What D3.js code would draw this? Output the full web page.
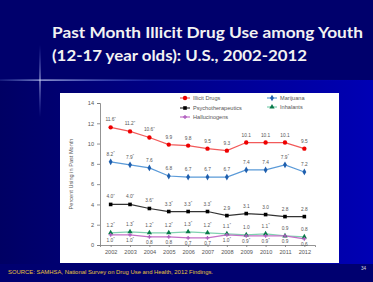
<!DOCTYPE html>
<html>
<head>
<meta charset="utf-8">
<script src="https://cdn.jsdelivr.net/npm/d3@7"></script>
<style>
  body { margin: 0; background: #000066; }
  svg { display: block; }
</style>
</head>
<body>
<svg width="373" height="282"></svg>
<script>
var years = [2002, 2003, 2004, 2005, 2006, 2007, 2008, 2009, 2010, 2011, 2012];
var illicit = [11.6, 11.2, 10.6, 9.9, 9.8, 9.5, 9.3, 10.1, 10.1, 10.1, 9.5];
var illicitSig = [1, 1, 1, 0, 0, 0, 0, 0, 0, 0, 0];
var marijuana = [8.2, 7.9, 7.6, 6.8, 6.7, 6.7, 6.7, 7.4, 7.4, 7.9, 7.2];
var marijuanaSig = [1, 1, 0, 0, 0, 0, 0, 0, 0, 1, 0];
var psycho = [4.0, 4.0, 3.6, 3.3, 3.3, 3.3, 2.9, 3.1, 3.0, 2.8, 2.8];
var psychoSig = [1, 1, 1, 1, 1, 1, 0, 0, 0, 0, 0];
var inhalants = [1.2, 1.3, 1.2, 1.2, 1.3, 1.2, 1.1, 1.0, 1.1, 0.9, 0.8];
var inhalantsSig = [1, 1, 1, 1, 1, 1, 1, 0, 1, 0, 0];
var halluc = [1.0, 1.0, 0.8, 0.8, 0.7, 0.7, 1.0, 0.9, 0.9, 0.9, 0.6];
var hallucSig = [1, 1, 0, 0, 0, 0, 1, 1, 1, 0, 0];
var yTicks = [0, 2, 4, 6, 8, 10, 12, 14];

var series = [
    { name: "Illicit Drugs", values: illicit, sig: illicitSig, line: "#f25a5a", mark: "#ee0000", sym: d3.symbolCircle, size: 15, below: false },
    { name: "Marijuana", values: marijuana, sig: marijuanaSig, line: "#5a9ad8", mark: "#1f5fae", sym: d3.symbolDiamond, size: 13, below: false },
    { name: "Psychotherapeutics", values: psycho, sig: psychoSig, line: "#333", mark: "#000", sym: d3.symbolSquare, size: 13, below: false },
    { name: "Inhalants", values: inhalants, sig: inhalantsSig, line: "#7fd1b0", mark: "#0a7a4a", sym: d3.symbolTriangle, size: 12, below: false },
    { name: "Hallucinogens", values: halluc, sig: hallucSig, line: "#c470c8", mark: "#b060c0", sym: d3.symbolCross, size: 8, below: true }
];

var svg = d3.select("svg");
var defs = svg.append("defs");

var bg = defs.append("linearGradient").attr("id", "bg").attr("x1", 0).attr("x2", 1).attr("y1", 0).attr("y2", 0);
bg.append("stop").attr("offset", 0).attr("stop-color", "#000064");
bg.append("stop").attr("offset", 1).attr("stop-color", "#0000b4");
var hl = defs.append("linearGradient").attr("id", "hl").attr("x1", 0).attr("x2", 1);
hl.append("stop").attr("offset", 0).attr("stop-color", "#8fb0ff").attr("stop-opacity", 0.2);
hl.append("stop").attr("offset", 0.12).attr("stop-color", "#d0dcff").attr("stop-opacity", 0.9);
hl.append("stop").attr("offset", 0.4).attr("stop-color", "#6080ff").attr("stop-opacity", 0.3);
hl.append("stop").attr("offset", 1).attr("stop-color", "#2030c0").attr("stop-opacity", 0);
var vl = defs.append("linearGradient").attr("id", "vl").attr("x1", 0).attr("x2", 0).attr("y1", 0).attr("y2", 1);
vl.append("stop").attr("offset", 0).attr("stop-color", "#8090ff").attr("stop-opacity", 0);
vl.append("stop").attr("offset", 0.5).attr("stop-color", "#e0e8ff").attr("stop-opacity", 0.9);
vl.append("stop").attr("offset", 1).attr("stop-color", "#8090ff").attr("stop-opacity", 0);

// slide background
svg.append("rect").attr("width", 373).attr("height", 282).attr("fill", "url(#bg)");
svg.append("rect").attr("width", 373).attr("height", 80).attr("fill", "#00006c");
svg.append("rect").attr("y", 264).attr("width", 373).attr("height", 18).attr("fill", "#000070");
svg.append("rect").attr("x", 0).attr("y", 79.5).attr("width", 373).attr("height", 1.2).attr("fill", "url(#hl)");
svg.append("rect").attr("x", 39.5).attr("y", 45).attr("width", 1).attr("height", 72).attr("fill", "url(#vl)");

// title
var title = svg.append("g").attr("fill", "#f2f2f2").attr("font-family", "Lato, 'Open Sans', sans-serif").attr("font-weight", "bold").attr("font-size", 16);
title.append("text").attr("x", 52).attr("y", 38).attr("textLength", 311).attr("lengthAdjust", "spacingAndGlyphs").text("Past Month Illicit Drug Use among Youth");
title.append("text").attr("x", 52).attr("y", 61).attr("textLength", 255).attr("lengthAdjust", "spacingAndGlyphs").text("(12-17 year olds): U.S., 2002-2012");

// chart panel
svg.append("rect").attr("x", 60).attr("y", 93).attr("width", 279).attr("height", 170).attr("fill", "#fff");

var x = d3.scalePoint().domain(years).range([100, 315]).padding(0.55);
var y = d3.scaleLinear().domain([0, 14]).range([245, 103]);

var axisFont = "'Liberation Sans', Arial, sans-serif";

var gx = svg.append("g").attr("transform", "translate(0,245)")
    .call(d3.axisBottom(x).tickSize(2).tickPadding(3));
var gy = svg.append("g").attr("transform", "translate(100,0)")
    .call(d3.axisLeft(y).tickValues(yTicks).tickSize(3).tickPadding(3));
[gx, gy].forEach(function(g) {
    g.selectAll(".domain").attr("stroke", "#777").attr("stroke-width", 0.8);
    g.selectAll(".tick line").attr("stroke", "#777").attr("stroke-width", 0.8);
    g.selectAll("text").attr("fill", "#555").attr("font-family", axisFont).attr("font-size", 5.6);
});

svg.append("text")
    .attr("transform", "translate(73," + y(7) + ") rotate(-90)")
    .attr("text-anchor", "middle")
    .attr("fill", "#555").attr("font-family", axisFont).attr("font-size", 5.6)
    .text("Percent Using in Past Month");

var line = d3.line()
    .x(function(d, i) { return x(years[i]); })
    .y(function(d) { return y(d); });

series.forEach(function(s) {
    svg.append("path").datum(s.values)
        .attr("fill", "none").attr("stroke", s.line).attr("stroke-width", 1.2)
        .attr("d", line);
});

series.forEach(function(s) {
    var sym = d3.symbol().type(s.sym).size(s.size);
    svg.append("g").selectAll("path").data(s.values).join("path")
        .attr("transform", function(d, i) { return "translate(" + x(years[i]) + "," + y(d) + ")"; })
        .attr("d", sym)
        .attr("fill", s.mark);
    var lbl = svg.append("g").selectAll("text").data(s.values).join("text")
        .attr("x", function(d, i) { return x(years[i]); })
        .attr("y", function(d) { return y(d) + (s.below ? 7 : -6); })
        .attr("text-anchor", "middle")
        .attr("fill", "#555").attr("font-family", axisFont).attr("font-size", 4.8);
    lbl.text(function(d) { return d.toFixed(1); });
    lbl.filter(function(d, i) { return s.sig[i]; })
        .append("tspan").attr("dy", -1.5).attr("font-size", 4).text("*");
});

// legend
var legendPos = [[185, 98], [185, 108], [185, 117], [272, 98], [272, 107]];
var legendOrder = [0, 2, 4, 1, 3];
legendOrder.forEach(function(si, k) {
    var s = series[si];
    var p = legendPos[k];
    var g = svg.append("g").attr("transform", "translate(" + p[0] + "," + p[1] + ")");
    g.append("line").attr("x1", -5).attr("x2", 5).attr("stroke", s.line).attr("stroke-width", 1.2);
    g.append("path").attr("d", d3.symbol().type(s.sym).size(s.size)()).attr("fill", s.mark);
    g.append("text").attr("x", 8).attr("dy", "0.35em")
        .attr("fill", "#555").attr("font-family", axisFont).attr("font-size", 5.6)
        .text(s.name);
});

// footer
svg.append("text").attr("x", 8).attr("y", 274)
    .attr("fill", "#e8c23a").attr("font-family", axisFont).attr("font-size", 5.2)
    .attr("textLength", 205).attr("lengthAdjust", "spacingAndGlyphs")
    .text("SOURCE: SAMHSA, National Survey on Drug Use and Health, 2012 Findings.");
svg.append("text").attr("x", 361).attr("y", 270)
    .attr("fill", "#ddd").attr("font-family", axisFont).attr("font-size", 4.6)
    .text("34");
</script>
</body>
</html>
